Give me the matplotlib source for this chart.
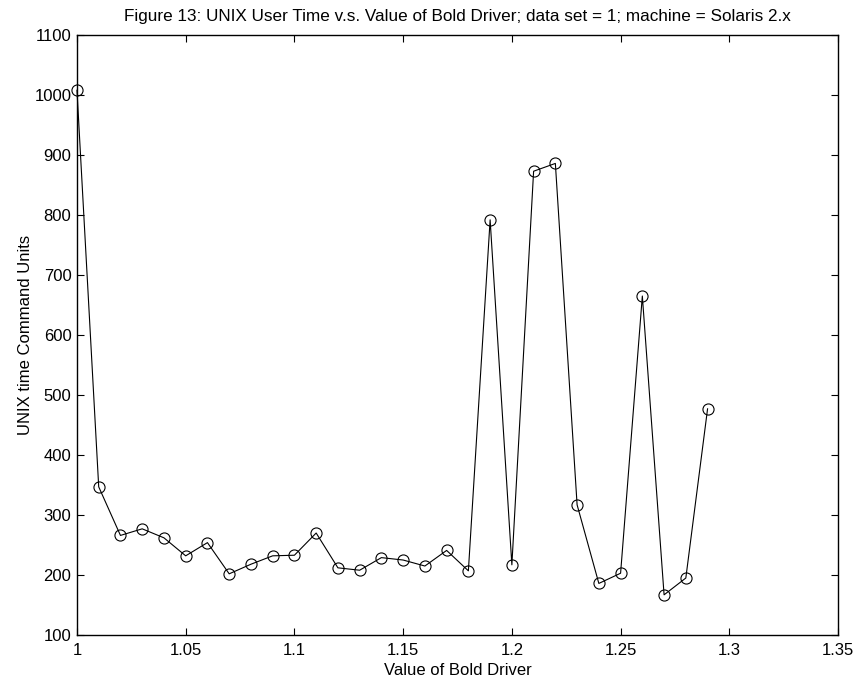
import matplotlib.pyplot as plt
import numpy as np

plt.rcParams['font.family'] = ['Liberation Sans', 'DejaVu Sans']

# bold driver settings and the measured user time for each
bold_driver = [1.00, 1.01, 1.02, 1.03, 1.04, 1.05, 1.06, 1.07, 1.08, 1.09,
               1.10, 1.11, 1.12, 1.13, 1.14, 1.15, 1.16, 1.17, 1.18, 1.19,
               1.20, 1.21, 1.22, 1.23, 1.24, 1.25, 1.26, 1.27, 1.28, 1.29]
user_time = [1008, 347, 266, 277, 262, 232, 254, 202, 218, 232,
             233, 270, 212, 208, 229, 225, 215, 241, 207, 792,
             217, 873, 886, 317, 186, 203, 665, 167, 195, 477]

x_ticks = [1, 1.05, 1.1, 1.15, 1.2, 1.25, 1.3, 1.35]
x_tick_labels = ['1', '1.05', '1.1', '1.15', '1.2', '1.25', '1.3', '1.35']
y_ticks = list(range(100, 1101, 100))

fig = plt.figure(figsize=(8.59, 6.84), dpi=100)
ax = fig.add_axes([0.0896, 0.0716, 0.8860, 0.8772])

ax.plot(bold_driver, user_time, color='black', linewidth=0.8,
        marker='o', markersize=8, markerfacecolor='none',
        markeredgecolor='black', markeredgewidth=0.8, clip_on=False)

ax.set_xlim(1, 1.35)
ax.set_ylim(100, 1100)
ax.set_xticks(x_ticks)
ax.set_xticklabels(x_tick_labels)
ax.set_yticks(y_ticks)
ax.tick_params(direction='in', top=True, right=True, length=5,
               labelsize=12, width=0.8)
ax.tick_params(axis='x', pad=6)
ax.tick_params(axis='y', pad=4)
for s in ax.spines.values():
    s.set_linewidth(1.0)

ax.set_xlabel('Value of Bold Driver', fontsize=12, labelpad=3)
ax.set_ylabel('UNIX time Command Units', fontsize=12, labelpad=1)
ax.set_title('Figure 13: UNIX User Time v.s. Value of Bold Driver; '
             'data set = 1; machine = Solaris 2.x', fontsize=12.3, pad=10)

fig.savefig('out.png', dpi=100)
